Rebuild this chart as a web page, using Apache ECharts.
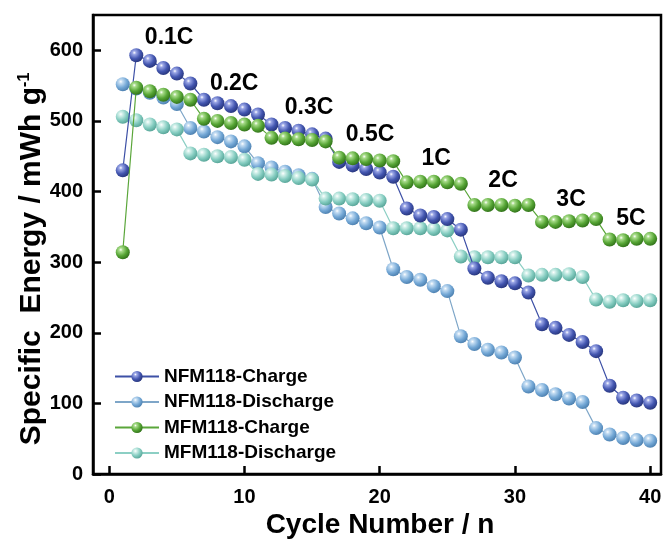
<!DOCTYPE html>
<html>
<head>
<meta charset="utf-8">
<script src="https://cdn.jsdelivr.net/npm/echarts@6/dist/echarts.min.js"></script>
<style>
html,body{margin:0;padding:0;background:#fff;}
#chart{width:668px;height:553px;}
</style>
</head>
<body>
<div id="chart"></div>
<script>
const cycles = [1,2,3,4,5,6,7,8,9,10,11,12,13,14,15,16,17,18,19,20,21,22,23,24,25,26,27,28,29,30,31,32,33,34,35,36,37,38,39,40];
const nfmCharge = [430,593,585,575,567,553,530,525,521,516,509,495,490,486,481,475,442,437,432,427,421,376,366,364,361,346,291,278,273,270,257,212,207,197,187,174,125,108,104,101];
const nfmDischarge = [552,546,540,533,524,490,485,477,471,464,440,434,428,423,418,378,369,362,355,349,290,279,275,266,259,195,184,176,172,165,124,119,113,107,102,65,56,51,48,47];
const mfmCharge = [314,547,542,537,534,530,503,500,497,495,493,476,475,474,473,471,448,447,446,444,443,413,414,414,413,411,381,381,381,380,381,357,357,358,359,361,332,331,333,333];
const mfmDischarge = [506,501,495,491,488,454,452,450,449,445,425,424,422,419,417,390,390,389,388,387,348,348,348,347,345,308,307,307,307,307,281,282,282,283,279,247,244,246,245,246];
const seriesNames = ['NFM118-Charge','NFM118-Discharge','MFM118-Charge','MFM118-Discharge'];
const xTicks = [0,10,20,30,40];
const yTicks = [0,100,200,300,400,500,600];
const rateText = ['0.1C','0.2C','0.3C','0.5C','1C','2C','3C','5C'];
const rateX = [4.43,9.24,14.78,19.29,24.17,29.12,34.15,38.58];
const rateY = [618,553,519,480,446,415,388,362];

const FONT = '"Liberation Sans", Arial, sans-serif';
function sphere(light, base, dark){
  return {type:'radial', x:0.36, y:0.32, r:0.72,
    colorStops:[{offset:0,color:'#ffffff'},{offset:0.18,color:light},{offset:0.6,color:base},{offset:1,color:dark}]};
}
const styles = [
  {fill: sphere('#9aa6e6','#4356b0','#26347a'), line:'#3d50a6', z:4},
  {fill: sphere('#c3dcf2','#74a8d6','#4a7eae'), line:'#7ea6c8', z:2},
  {fill: sphere('#a8dc8a','#56a535','#2f7018'), line:'#5aa63a', z:5},
  {fill: sphere('#d2f0ea','#84ccc0','#55a396'), line:'#8ccfc4', z:3}
];
const values = [nfmCharge, nfmDischarge, mfmCharge, mfmDischarge];

const series = values.map((vals, k) => ({
  name: seriesNames[k],
  type: 'line',
  z: styles[k].z,
  data: cycles.map((c, i) => [c, vals[i]]),
  symbol: 'circle',
  symbolSize: 14,
  showSymbol: true,
  lineStyle: {color: styles[k].line, width: 1.2},
  itemStyle: {color: styles[k].fill, borderWidth: 0},
  emphasis: {disabled: true}
}));
series.push({
  type: 'scatter',
  name: 'rates',
  z: 6,
  symbolSize: 0.01,
  itemStyle: {color: '#000', opacity: 1},
  silent: true,
  emphasis: {disabled: true},
  data: rateText.map((t, i) => ({value: [rateX[i], rateY[i]], name: t})),
  label: {show: true, position: 'inside', formatter: p => p.name, opacity: 1,
    fontSize: 23, fontWeight: 'bold', color: '#000', textBorderWidth: 0, fontFamily: FONT}
});

const chart = echarts.init(document.getElementById('chart'), null, {renderer: 'canvas'});
chart.setOption({
  animation: false,
  backgroundColor: '#fff',
  grid: {left: 93, right: 7, top: 15, bottom: 79, show: true, borderColor: '#000', borderWidth: 2.5, backgroundColor: 'transparent'},
  xAxis: {
    type: 'value', min: -1.2, max: 40.8,
    axisLine: {show: true, onZero: false, lineStyle: {color: '#000', width: 2.5}},
    axisTick: {show: true, inside: true, length: 8, lineStyle: {color: '#000', width: 2.5}, customValues: xTicks},
    axisLabel: {customValues: xTicks, fontSize: 20, fontWeight: 'bold', color: '#000', margin: 13, fontFamily: FONT},
    splitLine: {show: false}
  },
  yAxis: {
    type: 'value', min: 0, max: 650,
    axisLine: {show: true, onZero: false, lineStyle: {color: '#000', width: 2.5}},
    axisTick: {show: true, inside: true, length: 8, lineStyle: {color: '#000', width: 2.5}, customValues: yTicks},
    axisLabel: {customValues: yTicks, fontSize: 20, fontWeight: 'bold', color: '#000', margin: 10, fontFamily: FONT},
    splitLine: {show: false}
  },
  legend: {
    data: seriesNames,
    orient: 'vertical',
    left: 114, top: 367, padding: 0,
    itemWidth: 44, itemHeight: 14, itemGap: 6.5,
    textStyle: {fontSize: 19, fontWeight: 'bold', color: '#000', fontFamily: FONT, lineHeight: 18},
    selectedMode: false
  },
  graphic: [
    {type: 'text', x: 32, y: 259, rotation: Math.PI / 2,
      style: {text: '{a|Specific  Energy / mWh g}{b|-1}', align: 'center', verticalAlign: 'middle', fill: '#000',
        rich: {a: {fontSize: 30, fontWeight: 'bold', fontFamily: FONT, fill: '#000', lineHeight: 31},
               b: {fontSize: 16, fontWeight: 'bold', fontFamily: FONT, fill: '#000', verticalAlign: 'top', lineHeight: 31}}}},
    {type: 'text', x: 380, y: 525,
      style: {text: 'Cycle Number / n', align: 'center', verticalAlign: 'middle', fill: '#000',
        font: 'bold 28px ' + FONT}}
  ],
  series: series
});
</script>
</body>
</html>
